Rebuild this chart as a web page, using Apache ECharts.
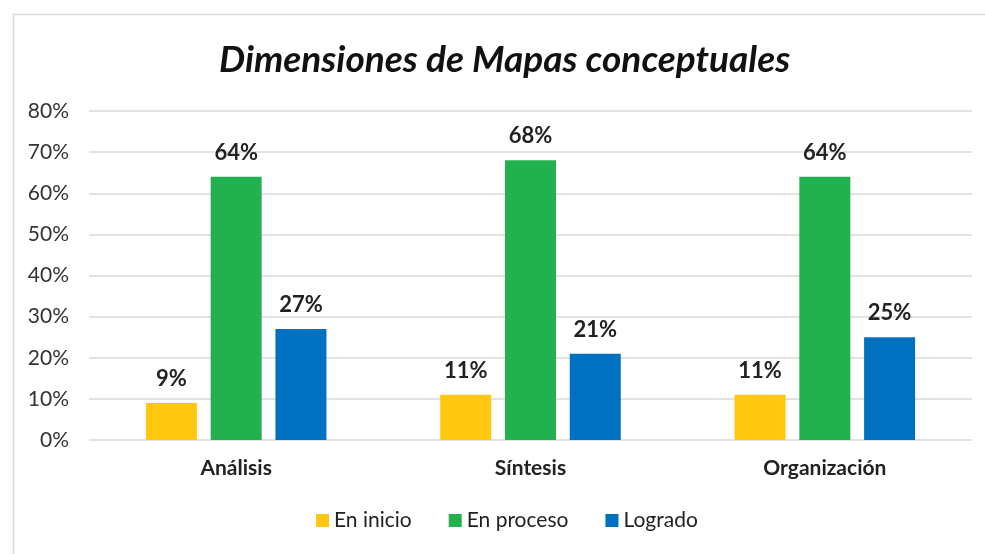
<!DOCTYPE html>
<html>
<head>
<meta charset="utf-8">
<script src="https://cdn.jsdelivr.net/npm/echarts@6/dist/echarts.min.js"></script>
<style>
  html, body { margin: 0; padding: 0; background: #fff; }
  #main { width: 985px; height: 554px; }
</style>
</head>
<body>
<div id="main"></div>
<script>
// datos del grafico
var categorias = ['Análisis', 'Síntesis', 'Organización'];
var enInicio = [9, 11, 11];
var enProceso = [64, 68, 64];
var logrado = [27, 21, 25];
var nombresSeries = ['En inicio', 'En proceso', 'Logrado'];
var colores = ['#FFC70F', '#23B04E', '#0070C0'];

var fuente = 'Lato';
var myChart = echarts.init(document.getElementById('main'));

var etiqueta = {
  show: true,
  position: 'top',
  distance: 13,
  formatter: '{c}%',
  color: '#222',
  fontFamily: fuente,
  fontWeight: 'bold',
  fontSize: 22
};

function serie(nombre, datos, color) {
  return {
    name: nombre,
    type: 'bar',
    data: datos,
    barWidth: 51,
    barGap: '27%',
    itemStyle: { color: color },
    label: etiqueta
  };
}

var option = {
  animation: false,
  color: colores,
  title: {
    text: 'Dimensiones de Mapas conceptuales',
    left: 214,
    top: 37,
    textStyle: {
      fontFamily: fuente,
      fontStyle: 'italic',
      fontWeight: 'bold',
      fontSize: 37,
      color: '#111'
    }
  },
  graphic: [{
    type: 'rect',
    left: 11,
    top: 12,
    shape: { width: 990, height: 560 },
    style: { fill: 'none', stroke: '#d9d9d9', lineWidth: 1.5 },
    silent: true
  }],
  legend: {
    data: nombresSeries,
    bottom: 18,
    left: 311,
    icon: 'rect',
    itemWidth: 13,
    itemHeight: 13,
    itemGap: 37,
    textStyle: { fontFamily: fuente, fontSize: 21, color: '#222' }
  },
  grid: {
    left: 89,
    right: 13,
    top: 111,
    bottom: 114
  },
  xAxis: {
    type: 'category',
    data: categorias,
    axisLine: { show: false },
    axisTick: { show: false },
    axisLabel: {
      margin: 18,
      fontFamily: fuente,
      fontWeight: 'bold',
      fontSize: 21,
      color: '#222'
    }
  },
  yAxis: {
    type: 'value',
    min: 0,
    max: 80,
    interval: 10,
    axisLabel: {
      formatter: '{value}%',
      margin: 20,
      fontFamily: fuente,
      fontSize: 21,
      color: '#333'
    },
    splitLine: { lineStyle: { color: '#d9d9d9', width: 1.5 } }
  },
  series: [
    serie(nombresSeries[0], enInicio, colores[0]),
    serie(nombresSeries[1], enProceso, colores[1]),
    serie(nombresSeries[2], logrado, colores[2])
  ]
};

myChart.setOption(option);
</script>
</body>
</html>
